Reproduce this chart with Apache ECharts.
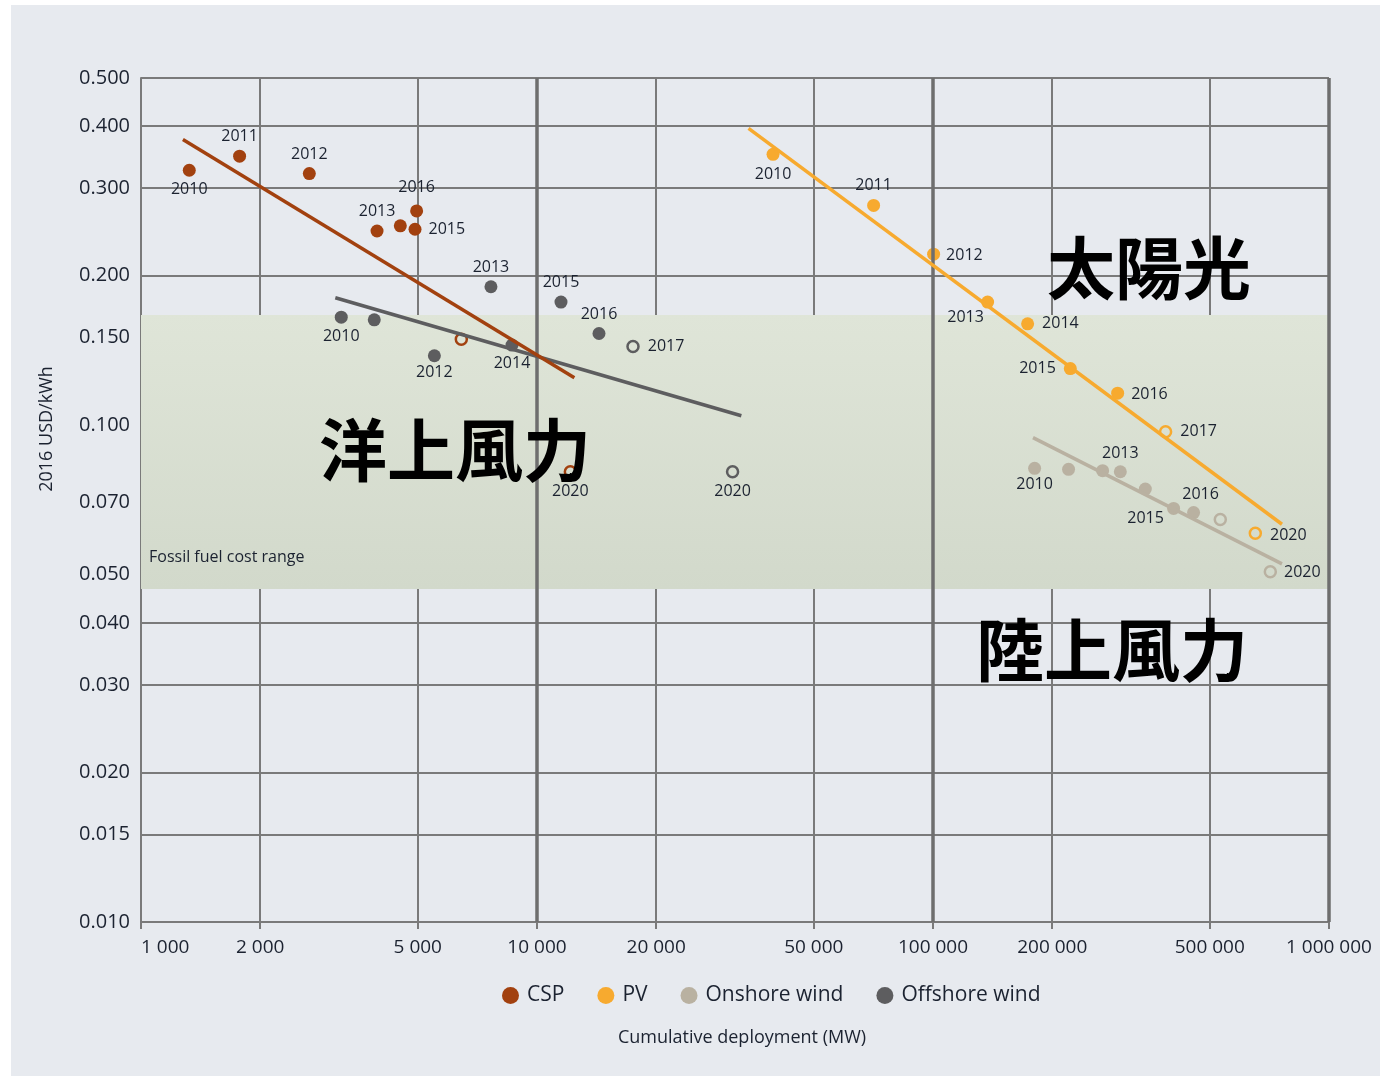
<!DOCTYPE html>
<html>
<head>
<meta charset="utf-8">
<title>Learning curves: CSP, PV, onshore and offshore wind</title>
<script src="https://cdn.jsdelivr.net/npm/echarts@6/dist/echarts.min.js"></script>
<style>
  html, body { margin: 0; padding: 0; background: #ffffff; }
  #frame { position: absolute; left: 11px; top: 5px; width: 1369px; height: 1071px; background: #e7eaef; }
  #chart { position: absolute; left: 0; top: 0; width: 1380px; height: 1078px; }
</style>
</head>
<body>
<div id="frame"></div>
<div id="chart"></div>
<script>
// Axis ticks
const xTicks = [1000, 2000, 5000, 10000, 20000, 50000, 100000, 200000, 500000, 1000000];
const yTicks = [0.010, 0.015, 0.020, 0.030, 0.040, 0.050, 0.070, 0.100, 0.150, 0.200, 0.300, 0.400, 0.500];
const xDecades = [10000, 100000, 1000000];

// Years shared by every technology (2017 and 2020 are projections)
const years = [2010, 2011, 2012, 2013, 2014, 2015, 2016, 2017, 2020];

// Cumulative deployment (MW) and LCOE (2016 USD/kWh)
const cspMW    = [1324, 1774, 2661, 3945, 4517, 4920, 4966, 6440, 12140];
const cspLCOE  = [0.326, 0.348, 0.321, 0.246, 0.252, 0.248, 0.270, 0.149, 0.0806];
const pvMW     = [39450, 70800, 100350, 137370, 173350, 222200, 292600, 386700, 651500];
const pvLCOE   = [0.351, 0.277, 0.221, 0.177, 0.160, 0.130, 0.116, 0.097, 0.0606];
const onshoreMW   = [180550, 219950, 268100, 297200, 343700, 405100, 455000, 531500, 710900];
const onshoreLCOE = [0.0819, 0.0815, 0.0810, 0.0806, 0.0744, 0.0680, 0.0667, 0.0646, 0.0507];
const offshoreMW   = [3204, 3882, 5506, 7651, 8647, 11497, 14340, 17475, 31180];
const offshoreLCOE = [0.165, 0.163, 0.138, 0.190, 0.145, 0.177, 0.153, 0.144, 0.0806];

// Fitted learning-curve endpoints
const cspTrendMW = [1276, 12427],      cspTrendLCOE = [0.376, 0.1246];
const pvTrendMW = [34210, 760800],     pvTrendLCOE = [0.396, 0.0632];
const onshoreTrendMW = [178850, 760800], onshoreTrendLCOE = [0.0944, 0.0526];
const offshoreTrendMW = [3095, 32810], offshoreTrendLCOE = [0.1806, 0.1045];

// Fossil fuel cost range (USD/kWh)
const fossilRange = [0.0468, 0.1667];

const techNames = ['CSP', 'PV', 'Onshore wind', 'Offshore wind'];

const FONT = "'Open Sans', 'Noto Sans', sans-serif";
const TEXT = '#1b2230';
const GRID = '#7a7a7a';
const colors = {
  'CSP': '#a2410f',
  'PV': '#f7aa2f',
  'Onshore wind': '#b9b1a1',
  'Offshore wind': '#5d5d5f'
};

// Year label placement: [position, dx, dy, distance]
const labelPlacement = {
  'CSP': { 2010: ['bottom'], 2011: ['top'], 2012: ['top'], 2013: ['top'], 2015: ['right', 0, 0, 7], 2016: ['top', 0, -4], 2020: ['bottom'] },
  'PV': { 2010: ['bottom', 0, 1], 2011: ['top'], 2012: ['right', 0, 1, 6], 2013: ['bottom', -22, -4], 2014: ['right', 0, 0, 8],
          2015: ['left', 0, 0, 8], 2016: ['right', 0, 1, 7], 2017: ['right', 0, 0, 8], 2020: ['right', 0, 2, 8] },
  'Onshore wind': { 2010: ['bottom', 0, -3], 2013: ['top', 0, 1], 2015: ['bottom', -28, -9], 2016: ['top', 7, 1], 2020: ['right', 0, 1, 7] },
  'Offshore wind': { 2010: ['bottom'], 2012: ['bottom', 0, -3], 2013: ['top'], 2014: ['bottom', 0, -1], 2015: ['top'], 2016: ['top'],
                     2017: ['right', 0, 0, 8], 2020: ['bottom'] }
};

function groupDigits(v) {
  return String(Math.round(v)).replace(/\B(?=(\d{3})+(?!\d))/g, ' ');
}

function pointSeries(name, mw, lcoe) {
  const color = colors[name];
  const place = labelPlacement[name];
  const data = years.map((yr, i) => {
    const projected = yr >= 2017;
    const p = place[yr];
    const item = {
      value: [mw[i], lcoe[i], yr],
      symbolSize: projected ? 11 : 13,
      itemStyle: projected
        ? { color: 'rgba(0,0,0,0)', borderColor: color, borderWidth: 2.5, opacity: 1 }
        : { color: color, opacity: 1 }
    };
    if (p) {
      item.label = {
        show: true,
        position: p[0],
        offset: [p[1] || 0, p[2] || 0],
        distance: p[3] !== undefined ? p[3] : 5
      };
    } else {
      item.label = { show: false };
    }
    return item;
  });
  return {
    type: 'scatter',
    name: name,
    data: data,
    z: 4,
    itemStyle: { color: color, opacity: 1 },
    label: {
      formatter: (prm) => String(prm.value[2]),
      fontSize: 16,
      fontFamily: FONT,
      color: TEXT
    },
    emphasis: { disabled: true }
  };
}

function trendSeries(name, mw, lcoe) {
  return {
    type: 'line',
    name: name,
    data: mw.map((x, i) => [x, lcoe[i]]),
    symbol: 'none',
    silent: true,
    z: 5,
    lineStyle: { color: colors[name], width: 3.5, cap: 'butt' },
    itemStyle: { color: colors[name] }
  };
}

const chart = echarts.init(document.getElementById('chart'), null, { renderer: 'canvas' });

const option = {
  backgroundColor: 'transparent',
  animation: false,
  grid: { left: 141, right: 51, top: 78, bottom: 156, containLabel: false, outerBoundsMode: 'none' },
  xAxis: {
    type: 'log',
    logBase: 10,
    min: 1000,
    max: 1000000,
    name: 'Cumulative deployment (MW)',
    nameLocation: 'middle',
    nameGap: 107,
    nameTextStyle: { fontSize: 18, fontFamily: FONT, color: TEXT, padding: [0, 0, 0, 14] },
    axisLine: { show: true, lineStyle: { color: GRID, width: 2 } },
    axisTick: { show: true, customValues: xTicks, length: 7, lineStyle: { color: GRID, width: 2 } },
    axisLabel: {
      customValues: xTicks,
      formatter: (v) => groupDigits(v),
      fontSize: 19,
      fontFamily: FONT,
      color: TEXT,
      margin: 16,
      alignMinLabel: 'left'
    },
    splitLine: { show: true, lineStyle: { color: GRID, width: 2 } },
    minorSplitLine: { show: false }
  },
  yAxis: {
    type: 'log',
    logBase: 10,
    min: 0.01,
    max: 0.5,
    axisLine: { show: true, lineStyle: { color: GRID, width: 2 } },
    axisTick: { show: false, customValues: yTicks },
    axisLabel: {
      customValues: yTicks,
      formatter: (v) => Number(v).toFixed(3),
      fontSize: 20,
      fontFamily: FONT,
      color: TEXT,
      margin: 11
    },
    splitLine: { show: true, lineStyle: { color: GRID, width: 2 } }
  },
  legend: {
    data: techNames,
    icon: 'circle',
    itemWidth: 17,
    itemHeight: 17,
    itemGap: 33,
    left: 497,
    top: 980,
    selectedMode: false,
    textStyle: { fontSize: 21, fontFamily: FONT, color: TEXT, padding: [0, 0, 0, 3] }
  },
  graphic: [
    {
      type: 'text', x: 47, y: 429, rotation: Math.PI / 2, silent: true,
      style: { text: '2016 USD/kWh', font: "18px 'Open Sans', sans-serif", fill: TEXT,
               align: 'center', verticalAlign: 'middle', textAlign: 'center', textVerticalAlign: 'middle' }
    },
    {
      type: 'text', x: 1149, y: 268, silent: true, z: 20,
      style: { text: '太陽光', font: "bold 68px 'Noto Sans CJK JP', sans-serif", fill: '#000000',
               align: 'center', verticalAlign: 'middle', textAlign: 'center', textVerticalAlign: 'middle' }
    },
    {
      type: 'text', x: 455, y: 450, silent: true, z: 20,
      style: { text: '洋上風力', font: "bold 68px 'Noto Sans CJK JP', sans-serif", fill: '#000000',
               align: 'center', verticalAlign: 'middle', textAlign: 'center', textVerticalAlign: 'middle' }
    },
    {
      type: 'text', x: 1112, y: 650, silent: true, z: 20,
      style: { text: '陸上風力', font: "bold 68px 'Noto Sans CJK JP', sans-serif", fill: '#000000',
               align: 'center', verticalAlign: 'middle', textAlign: 'center', textVerticalAlign: 'middle' }
    }
  ],
  series: [
    // points first so the legend takes their circle colour
    pointSeries('CSP', cspMW, cspLCOE),
    pointSeries('PV', pvMW, pvLCOE),
    pointSeries('Onshore wind', onshoreMW, onshoreLCOE),
    pointSeries('Offshore wind', offshoreMW, offshoreLCOE),
    trendSeries('Offshore wind', offshoreTrendMW, offshoreTrendLCOE),
    trendSeries('CSP', cspTrendMW, cspTrendLCOE),
    trendSeries('Onshore wind', onshoreTrendMW, onshoreTrendLCOE),
    trendSeries('PV', pvTrendMW, pvTrendLCOE),
    {
      // fossil fuel band and heavier decade grid lines
      type: 'scatter',
      name: 'fossil',
      data: [],
      z: -1,
      silent: true,
      markArea: {
        silent: true,
        itemStyle: {
          color: {
            type: 'linear', x: 0, y: 0, x2: 0, y2: 1,
            colorStops: [{ offset: 0, color: '#dfe5d8' }, { offset: 1, color: '#d2d9cb' }]
          }
        },
        label: {
          show: true,
          position: 'insideBottomLeft',
          distance: 8,
          offset: [0, -16],
          formatter: 'Fossil fuel cost range',
          fontSize: 16,
          fontFamily: FONT,
          color: TEXT
        },
        data: [[{ xAxis: xTicks[0], yAxis: fossilRange[1] }, { xAxis: xTicks[xTicks.length - 1], yAxis: fossilRange[0] }]]
      },
      markLine: {
        silent: true,
        symbol: 'none',
        label: { show: false },
        lineStyle: { color: '#6e6e6e', width: 3.5, type: 'solid' },
        data: xDecades.map(v => ({ xAxis: v }))
      }
    }
  ]
};

chart.setOption(option);
</script>
</body>
</html>
